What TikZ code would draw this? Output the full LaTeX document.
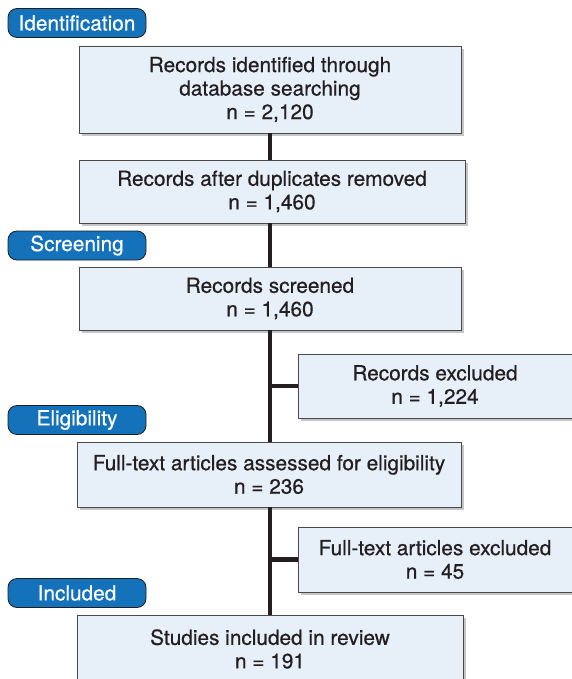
\documentclass[tikz,border=0pt]{standalone}
\usepackage{fontspec}
\setmainfont{TeX Gyre Heros}
\newfontface\medfont{TeX Gyre Heros}[FakeBold=0.6]
\usepackage{tikz}
\usetikzlibrary{positioning,calc,shadows}
\definecolor{boxfill}{HTML}{E7EFF9}
\definecolor{boxline}{HTML}{4A4A4A}
\definecolor{stagefill}{HTML}{1472BA}
\definecolor{inkdark}{HTML}{231F20}

\begin{document}
\begin{tikzpicture}[
    x=1pt, y=-1pt,
    font=\medfont\fontsize{20.8}{23.5}\selectfont,
    box/.style={rectangle, draw=boxline, line width=0.8pt, fill=boxfill, text=inkdark, align=center,
        inner sep=0pt, drop shadow={shadow xshift=3pt, shadow yshift=-3pt, opacity=0.45}},
    stage/.style={rectangle, rounded corners=9pt, draw=inkdark, line width=0.8pt, fill=stagefill,
        text=white, minimum width=138pt, minimum height=29pt, inner sep=0pt},
    trunk/.style={draw=inkdark, line width=4.8pt}
]
    \useasboundingbox (0,0) rectangle (572,679);

    % stage labels
    \node[stage] (ident) at (77, 23) {Identification};
    \node[stage] (screen) at (77, 245.5) {Screening};
    \node[stage] (elig) at (77, 420) {Eligibility};
    \node[stage] (incl) at (77, 593) {Included};

    % main column
    \node[box, minimum width=382pt, minimum height=87pt] (found) at (270, 89.5)
        {Records identified through\\database searching\\n = 2,120};
    \node[box, minimum width=386pt, minimum height=63pt] (dedup) at (272, 191.5)
        {Records after duplicates removed\\n = 1,460};
    \node[box, minimum width=382pt, minimum height=63pt] (screened) at (270, 298.5)
        {Records screened\\n = 1,460};
    \node[box, minimum width=384pt, minimum height=65pt] (full) at (269, 474.5)
        {Full-text articles assessed for eligibility\\n = 236};
    \node[box, minimum width=386pt, minimum height=68pt] (studies) at (270, 649)
        {Studies included in review\\n = 191};

    % exclusions
    \node[box, minimum width=274pt, minimum height=64pt] (excl) at (435, 386)
        {Records excluded\\n = 1,224};
    \node[box, minimum width=274pt, minimum height=65pt] (ftexcl) at (435, 559.5)
        {Full-text articles excluded\\n = 45};

    \draw[trunk] (found.south) -- (dedup.north -| found.south);
    \draw[trunk] (dedup.south -| found.south) -- (screened.north);
    \draw[trunk] (screened.south) -- (full.north -| screened.south);
    \draw[trunk] (full.south -| screened.south) -- (studies.north);
    \draw[trunk] (excl.west -| screened.south) -- (excl.west);
    \draw[trunk] (ftexcl.west -| screened.south) -- (ftexcl.west);

\end{tikzpicture}
\end{document}
